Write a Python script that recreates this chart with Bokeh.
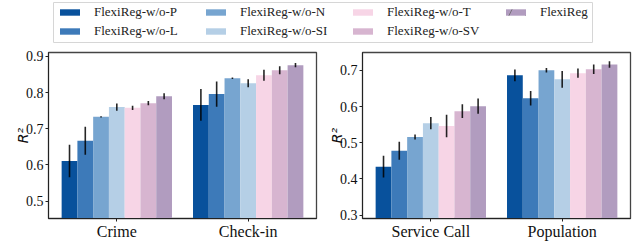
from bokeh.plotting import figure
from bokeh.models import FactorRange, Range1d, Legend, LegendItem, FixedTicker, ColumnDataSource, Spacer
from bokeh.transform import dodge
from bokeh.layouts import column, row
from bokeh.embed import file_html
from bokeh.resources import INLINE

models = ["FlexiReg-w/o-P", "FlexiReg-w/o-L", "FlexiReg-w/o-N", "FlexiReg-w/o-SI",
          "FlexiReg-w/o-T", "FlexiReg-w/o-SV", "FlexiReg"]
colors = ["#08519c", "#3d7ab9", "#77a5d0", "#b5cfe6", "#f7d5e6", "#d7b5d0", "#b19cbf"]

left_cats = ["Crime", "Check-in"]
right_cats = ["Service Call", "Population"]

crime = [0.611, 0.667, 0.733, 0.760, 0.758, 0.771, 0.790]
crime_err = [0.045, 0.039, 0.002, 0.010, 0.006, 0.006, 0.008]
checkin = [0.766, 0.796, 0.840, 0.826, 0.848, 0.862, 0.876]
checkin_err = [0.044, 0.035, 0.002, 0.011, 0.015, 0.011, 0.006]
service = [0.434, 0.478, 0.516, 0.554, 0.546, 0.587, 0.601]
service_err = [0.030, 0.025, 0.007, 0.017, 0.031, 0.019, 0.021]
population = [0.686, 0.623, 0.700, 0.675, 0.692, 0.703, 0.716]
population_err = [0.016, 0.020, 0.006, 0.023, 0.013, 0.013, 0.009]

left_yticks = [0.5, 0.6, 0.7, 0.8, 0.9]
right_yticks = [0.3, 0.4, 0.5, 0.6, 0.7]

SERIF = "Liberation Serif"
BAR_W = 0.12


def make_panel(cats, vals_a, err_a, vals_b, err_b, yr, yticks, border_left, border_right):
    p = figure(x_range=FactorRange(*cats, range_padding=0.02), y_range=Range1d(*yr),
               frame_width=268, frame_height=166, output_backend="svg", toolbar_location=None,
               min_border_left=border_left, min_border_right=border_right,
               min_border_top=6, min_border_bottom=23)
    for i, m in enumerate(models):
        off = (i - 3) * BAR_W
        src = ColumnDataSource(dict(cat=cats, val=[vals_a[i], vals_b[i]],
                                    lo=[vals_a[i] - err_a[i], vals_b[i] - err_b[i]],
                                    hi=[vals_a[i] + err_a[i], vals_b[i] + err_b[i]]))
        p.vbar(x=dodge("cat", off, range=p.x_range), top="val", bottom=0, width=BAR_W,
               source=src, fill_color=colors[i], line_color=None)
        p.segment(x0=dodge("cat", off, range=p.x_range), x1=dodge("cat", off, range=p.x_range),
                  y0="lo", y1="hi", source=src, line_color="black", line_width=1.6, line_alpha=0.85)
    p.xgrid.visible = False
    p.ygrid.visible = False
    p.outline_line_color = "#444444"
    p.outline_line_width = 1.3
    for ax in (p.xaxis[0], p.yaxis[0]):
        ax.axis_line_color = "#222222"
        ax.major_tick_line_color = "#222222"
        ax.minor_tick_line_color = None
        ax.major_tick_in = 0
        ax.major_tick_out = 3
        ax.major_label_text_font = SERIF
        ax.major_label_text_color = "#111111"
    p.xaxis.major_label_text_font_size = "16px"
    p.xaxis.major_label_standoff = 1
    p.yaxis.major_label_text_font_size = "14px"
    p.yaxis.major_label_standoff = 2
    p.yaxis.ticker = FixedTicker(ticks=yticks)
    p.yaxis.axis_label = "R²"
    p.yaxis.axis_label_text_font = "DejaVu Sans"
    p.yaxis.axis_label_text_font_style = "italic"
    p.yaxis.axis_label_text_font_size = "14px"
    p.yaxis.axis_label_standoff = -8
    p.yaxis.axis_label_text_color = "#111111"
    return p


p1 = make_panel(left_cats, crime, crime_err, checkin, checkin_err, (0.452, 0.911), left_yticks, 48, 6)
p2 = make_panel(right_cats, service, service_err, population, population_err, (0.291, 0.749), right_yticks, 40, 13)

# legend box: a small figure whose outline is the frame; one Legend per column
lf = figure(width=540, height=41, x_range=(0, 1), y_range=(0, 1), output_backend="svg",
            toolbar_location=None, min_border=0)
lf.axis.visible = False
lf.grid.visible = False
lf.outline_line_color = "#d6d6d6"
lf.outline_line_width = 1
renderers = []
for i, m in enumerate(models):
    kw = {}
    if m == "FlexiReg":
        kw = dict(hatch_pattern="/", hatch_color="#666666", hatch_scale=34, hatch_weight=0.8)
    r = lf.vbar(x=[5], top=[6], bottom=[5], width=0.1, fill_color=colors[i], line_color=None, **kw)
    renderers.append(r)

legend_cols = [[0, 1], [2, 3], [4, 5], [6]]
col_x = [4, 150, 297, 450]
for idxs, cx in zip(legend_cols, col_x):
    items = [LegendItem(label=models[k], renderers=[renderers[k]]) for k in idxs]
    n_missing = 2 - len(idxs)
    leg = Legend(items=items, orientation="vertical", location=(cx, 4 + 19 * n_missing),
                 label_text_font=SERIF, label_text_font_size="13px", label_text_color="#222222",
                 glyph_width=25, glyph_height=8, label_standoff=12, spacing=3, padding=0,
                 label_height=16, margin=0, border_line_color=None, background_fill_alpha=0)
    lf.add_layout(leg, "center")

layout = column(Spacer(height=2),
                row(Spacer(width=53), lf, spacing=0),
                Spacer(height=3),
                row(p1, p2, spacing=0), spacing=0)
open("out.html", "w").write(file_html(layout, INLINE))
